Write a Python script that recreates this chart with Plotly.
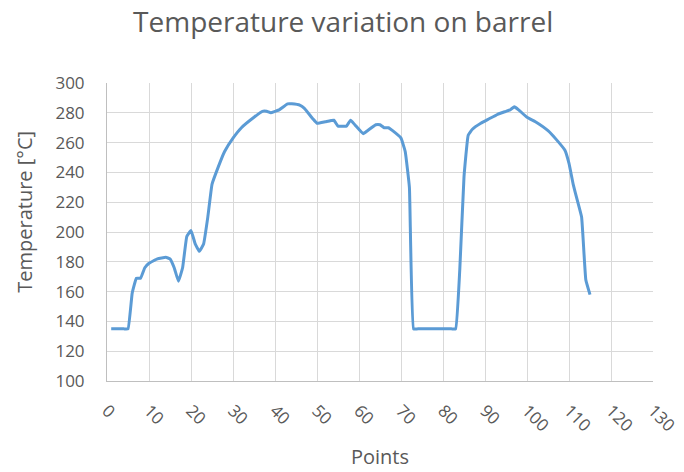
import plotly.graph_objects as go

points = [1, 2, 3, 4, 5, 6, 7, 8, 9, 10, 12, 14, 15, 16, 17, 18, 19, 20, 21, 22,
          23, 24, 25, 26, 28, 30, 32, 35, 37, 38, 39, 40, 41, 43, 44, 46, 47, 49,
          50, 52, 54, 55, 56, 57, 58, 59, 61, 62, 64, 65, 66, 67, 68, 70, 71, 72,
          73, 74, 75, 76, 77, 78, 79, 80, 81, 82, 83, 84, 85, 86, 87, 89, 91, 93,
          95, 96, 97, 98, 100, 102, 105, 107, 109, 110, 111, 112, 113, 114, 115]
temperature = [135, 135, 135, 135, 135, 159, 169, 169, 176, 179, 182, 183, 182, 176, 167, 176, 197, 201, 192, 187,
               192, 210, 232, 240, 254, 263, 270, 277, 281, 281, 280, 281, 282, 286, 286, 285, 283, 276,
               273, 274, 275, 271, 271, 271, 275, 272, 266, 268, 272, 272, 270, 270, 268, 263, 254, 230,
               135, 135, 135, 135, 135, 135, 135, 135, 135, 135, 135, 175, 237, 265, 269, 273, 276, 279,
               281, 282, 284, 282, 277, 274, 268, 262, 255, 246, 232, 221, 210, 168, 158]

x_ticks = list(range(0, 131, 10))
y_ticks = list(range(100, 301, 20))

font_family = "Open Sans"
grey = "#595959"

fig = go.Figure()
fig.add_trace(go.Scatter(
    x=points, y=temperature, mode="lines",
    line=dict(color="#5B9BD5", width=3, shape="spline", smoothing=0.3),
    showlegend=False,
))

fig.update_layout(
    width=684, height=472,
    margin=dict(l=99, r=37, t=75, b=99),
    paper_bgcolor="white", plot_bgcolor="white",
    title=dict(text="Temperature variation on barrel", x=0.49, xanchor="center",
               y=0.99, yanchor="top", pad=dict(t=0, b=0),
               font=dict(family=font_family, size=28, color=grey)),
    font=dict(family=font_family, color=grey),
    annotations=[dict(
        text="Temperature [°C]", xref="paper", yref="paper",
        x=-0.1515, y=0.569, xanchor="center", yanchor="middle",
        textangle=-90, showarrow=False,
        font=dict(family=font_family, size=20, color=grey),
    )],
)
fig.update_xaxes(
    range=[0, 130], tickvals=x_ticks, ticktext=[str(v) for v in x_ticks],
    tickangle=45, tickfont=dict(size=17, color=grey),
    ticklabelstandoff=12,
    showgrid=True, gridcolor="#D9D9D9", gridwidth=1,
    showline=True, linecolor="#BFBFBF", linewidth=1,
    zeroline=False, ticks="",
    title=dict(text="Points", font=dict(size=20, color=grey), standoff=14),
)
fig.update_yaxes(
    range=[100, 300], tickvals=y_ticks,
    tickfont=dict(size=17, color=grey),
    ticklabelstandoff=18,
    showgrid=True, gridcolor="#D9D9D9", gridwidth=1,
    showline=True, linecolor="#BFBFBF", linewidth=1,
    zeroline=False, ticks="",
)

fig.write_html("out.html")
